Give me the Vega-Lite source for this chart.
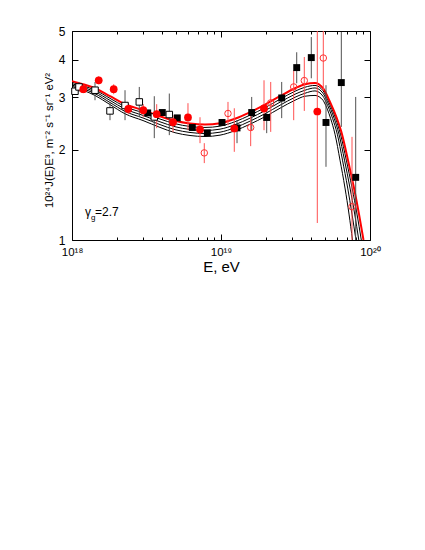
{
  "$schema": "https://vega.github.io/schema/vega-lite/v6.json",
  "width": 298,
  "height": 209,
  "padding": {"left": 43, "top": 25, "right": 10, "bottom": 5},
  "config": {
    "view": {"stroke": "black", "strokeWidth": 1},
    "font": "Liberation Sans",
    "axis": {"grid": false, "domain": false, "labelFont": "Liberation Sans", "titleFont": "Liberation Sans", "labelFontSize": 12, "titleFontWeight": "normal", "tickColor": "black", "labelColor": "black", "titleColor": "black", "labelFlush": false}
  },
  "datasets": {
    "curves": [
      {"c": "red", "E": 1.000e18, "J": 3.400}, {"c": "red", "E": 1.185e18, "J": 3.318}, {"c": "red", "E": 1.427e18, "J": 3.218}, {"c": "red", "E": 1.799e18, "J": 3.026}, {"c": "red", "E": 2.269e18, "J": 2.846}, {"c": "red", "E": 2.996e18, "J": 2.717}, {"c": "red", "E": 3.895e18, "J": 2.594}, {"c": "red", "E": 4.913e18, "J": 2.506}, {"c": "red", "E": 6.194e18, "J": 2.453}, {"c": "red", "E": 7.808e18, "J": 2.434}, {"c": "red", "E": 9.847e18, "J": 2.459}, {"c": "red", "E": 1.242e19, "J": 2.545}, {"c": "red", "E": 1.565e19, "J": 2.676}, {"c": "red", "E": 1.974e19, "J": 2.835}, {"c": "red", "E": 2.489e19, "J": 3.026}, {"c": "red", "E": 3.138e19, "J": 3.218}, {"c": "red", "E": 3.662e19, "J": 3.318}, {"c": "red", "E": 4.275e19, "J": 3.351}, {"c": "red", "E": 4.836e19, "J": 3.218}, {"c": "red", "E": 5.389e19, "J": 2.896}, {"c": "red", "E": 6.003e19, "J": 2.545}, {"c": "red", "E": 6.488e19, "J": 2.259}, {"c": "red", "E": 7.116e19, "J": 1.850}, {"c": "red", "E": 7.809e19, "J": 1.492}, {"c": "red", "E": 8.437e19, "J": 1.221}, {"c": "red", "E": 9.045e19, "J": 1.000},

      {"c": "b1", "E": 1.000e18, "J": 3.370}, {"c": "b1", "E": 1.185e18, "J": 3.280}, {"c": "b1", "E": 1.427e18, "J": 3.173}, {"c": "b1", "E": 1.799e18, "J": 2.977}, {"c": "b1", "E": 2.269e18, "J": 2.793}, {"c": "b1", "E": 2.996e18, "J": 2.664}, {"c": "b1", "E": 3.895e18, "J": 2.539}, {"c": "b1", "E": 4.913e18, "J": 2.449}, {"c": "b1", "E": 6.194e18, "J": 2.397}, {"c": "b1", "E": 7.808e18, "J": 2.379}, {"c": "b1", "E": 9.847e18, "J": 2.403}, {"c": "b1", "E": 1.242e19, "J": 2.487}, {"c": "b1", "E": 1.565e19, "J": 2.615}, {"c": "b1", "E": 1.974e19, "J": 2.770}, {"c": "b1", "E": 2.489e19, "J": 2.957}, {"c": "b1", "E": 3.138e19, "J": 3.144}, {"c": "b1", "E": 3.662e19, "J": 3.243}, {"c": "b1", "E": 4.275e19, "J": 3.288}, {"c": "b1", "E": 4.836e19, "J": 3.157}, {"c": "b1", "E": 5.291e19, "J": 2.896}, {"c": "b1", "E": 5.885e19, "J": 2.545}, {"c": "b1", "E": 6.339e19, "J": 2.259}, {"c": "b1", "E": 6.933e19, "J": 1.850}, {"c": "b1", "E": 7.584e19, "J": 1.492}, {"c": "b1", "E": 8.181e19, "J": 1.221}, {"c": "b1", "E": 8.742e19, "J": 1.000},

      {"c": "b2", "E": 1.000e18, "J": 3.333}, {"c": "b2", "E": 1.185e18, "J": 3.243}, {"c": "b2", "E": 1.427e18, "J": 3.130}, {"c": "b2", "E": 1.799e18, "J": 2.930}, {"c": "b2", "E": 2.269e18, "J": 2.742}, {"c": "b2", "E": 2.996e18, "J": 2.610}, {"c": "b2", "E": 3.895e18, "J": 2.485}, {"c": "b2", "E": 4.913e18, "J": 2.393}, {"c": "b2", "E": 6.194e18, "J": 2.342}, {"c": "b2", "E": 7.808e18, "J": 2.325}, {"c": "b2", "E": 9.847e18, "J": 2.348}, {"c": "b2", "E": 1.242e19, "J": 2.431}, {"c": "b2", "E": 1.565e19, "J": 2.555}, {"c": "b2", "E": 1.974e19, "J": 2.707}, {"c": "b2", "E": 2.489e19, "J": 2.890}, {"c": "b2", "E": 3.138e19, "J": 3.073}, {"c": "b2", "E": 3.662e19, "J": 3.169}, {"c": "b2", "E": 4.275e19, "J": 3.225}, {"c": "b2", "E": 4.836e19, "J": 3.096}, {"c": "b2", "E": 5.186e19, "J": 2.896}, {"c": "b2", "E": 5.760e19, "J": 2.545}, {"c": "b2", "E": 6.193e19, "J": 2.259}, {"c": "b2", "E": 6.744e19, "J": 1.850}, {"c": "b2", "E": 7.342e19, "J": 1.492}, {"c": "b2", "E": 7.894e19, "J": 1.221}, {"c": "b2", "E": 8.410e19, "J": 1.000},

      {"c": "b3", "E": 1.000e18, "J": 3.300}, {"c": "b3", "E": 1.185e18, "J": 3.206}, {"c": "b3", "E": 1.427e18, "J": 3.087}, {"c": "b3", "E": 1.799e18, "J": 2.883}, {"c": "b3", "E": 2.269e18, "J": 2.692}, {"c": "b3", "E": 2.996e18, "J": 2.559}, {"c": "b3", "E": 3.895e18, "J": 2.432}, {"c": "b3", "E": 4.913e18, "J": 2.339}, {"c": "b3", "E": 6.194e18, "J": 2.289}, {"c": "b3", "E": 7.808e18, "J": 2.271}, {"c": "b3", "E": 9.847e18, "J": 2.294}, {"c": "b3", "E": 1.242e19, "J": 2.375}, {"c": "b3", "E": 1.565e19, "J": 2.497}, {"c": "b3", "E": 1.974e19, "J": 2.645}, {"c": "b3", "E": 2.489e19, "J": 2.823}, {"c": "b3", "E": 3.138e19, "J": 3.002}, {"c": "b3", "E": 3.662e19, "J": 3.096}, {"c": "b3", "E": 4.275e19, "J": 3.152}, {"c": "b3", "E": 4.836e19, "J": 3.026}, {"c": "b3", "E": 5.066e19, "J": 2.896}, {"c": "b3", "E": 5.619e19, "J": 2.545}, {"c": "b3", "E": 6.033e19, "J": 2.259}, {"c": "b3", "E": 6.537e19, "J": 1.850}, {"c": "b3", "E": 7.084e19, "J": 1.492}, {"c": "b3", "E": 7.572e19, "J": 1.221}, {"c": "b3", "E": 8.054e19, "J": 1.000},

      {"c": "b4", "E": 1.000e18, "J": 3.267}, {"c": "b4", "E": 1.185e18, "J": 3.169}, {"c": "b4", "E": 1.427e18, "J": 3.044}, {"c": "b4", "E": 1.799e18, "J": 2.837}, {"c": "b4", "E": 2.269e18, "J": 2.643}, {"c": "b4", "E": 2.996e18, "J": 2.509}, {"c": "b4", "E": 3.895e18, "J": 2.380}, {"c": "b4", "E": 4.913e18, "J": 2.285}, {"c": "b4", "E": 6.194e18, "J": 2.236}, {"c": "b4", "E": 7.808e18, "J": 2.219}, {"c": "b4", "E": 9.847e18, "J": 2.242}, {"c": "b4", "E": 1.242e19, "J": 2.321}, {"c": "b4", "E": 1.565e19, "J": 2.440}, {"c": "b4", "E": 1.974e19, "J": 2.584}, {"c": "b4", "E": 2.489e19, "J": 2.759}, {"c": "b4", "E": 3.138e19, "J": 2.934}, {"c": "b4", "E": 3.662e19, "J": 3.026}, {"c": "b4", "E": 4.275e19, "J": 3.044}, {"c": "b4", "E": 4.836e19, "J": 2.934}, {"c": "b4", "E": 4.913e19, "J": 2.896}, {"c": "b4", "E": 5.447e19, "J": 2.545}, {"c": "b4", "E": 5.823e19, "J": 2.259}, {"c": "b4", "E": 6.291e19, "J": 1.850}, {"c": "b4", "E": 6.796e19, "J": 1.492}, {"c": "b4", "E": 7.230e19, "J": 1.221}, {"c": "b4", "E": 7.631e19, "J": 1.000}
    ],
    "pts": [
      {"s": "osq", "E": 1.047e18, "J": 3.144},
      {"s": "osq", "E": 1.114e18, "J": 3.250, "lo": 3.127, "hi": 3.377},
      {"s": "osq", "E": 1.427e18, "J": 3.169, "lo": 2.934, "hi": 3.377},
      {"s": "osq", "E": 1.799e18, "J": 2.702, "lo": 2.516, "hi": 2.868},
      {"s": "osq", "E": 2.269e18, "J": 2.817, "lo": 2.516, "hi": 3.169},
      {"s": "osq", "E": 2.829e18, "J": 2.896, "lo": 2.580, "hi": 3.250},
      {"s": "osq", "E": 3.567e18, "J": 2.580, "lo": 2.191, "hi": 3.026},
      {"s": "osq", "E": 4.498e18, "J": 2.628, "lo": 2.242, "hi": 3.089},
      {"s": "fsq", "E": 3.222e18, "J": 2.661},
      {"s": "fsq", "E": 4.036e18, "J": 2.669},
      {"s": "fsq", "E": 5.089e18, "J": 2.561},
      {"s": "fsq", "E": 6.419e18, "J": 2.378},
      {"s": "fsq", "E": 8.092e18, "J": 2.282},
      {"s": "fsq", "E": 1.016e19, "J": 2.472},
      {"s": "fsq", "E": 1.281e19, "J": 2.371, "lo": 2.108, "hi": 2.516},
      {"s": "fsq", "E": 1.607e19, "J": 2.669, "lo": 2.329, "hi": 3.009},
      {"s": "fsq", "E": 2.026e19, "J": 2.569, "lo": 2.277, "hi": 2.824},
      {"s": "fsq", "E": 2.555e19, "J": 2.986, "lo": 2.556, "hi": 3.377},
      {"s": "fsq", "E": 3.222e19, "J": 3.772, "lo": 3.343, "hi": 4.245},
      {"s": "fsq", "E": 4.036e19, "J": 4.074, "lo": 3.474, "hi": 4.773},
      {"s": "fsq", "E": 5.066e19, "J": 2.472, "lo": 1.757, "hi": 3.293},
      {"s": "fsq", "E": 6.419e19, "J": 3.361, "lo": 2.389, "hi": 4.961},
      {"s": "fsq", "E": 8.017e19, "J": 1.620, "lo": 1.0, "hi": 3.009},
      {"s": "fci", "E": 1.191e18, "J": 3.193, "lo": 3.096, "hi": 3.293},
      {"s": "fci", "E": 1.511e18, "J": 3.421, "lo": 3.318, "hi": 3.528},
      {"s": "fci", "E": 1.905e18, "J": 3.193, "lo": 3.073, "hi": 3.318},
      {"s": "fci", "E": 2.387e18, "J": 2.744, "lo": 2.634, "hi": 2.868},
      {"s": "fci", "E": 3.009e18, "J": 2.717, "lo": 2.574, "hi": 2.846},
      {"s": "fci", "E": 3.702e18, "J": 2.634, "lo": 2.366, "hi": 2.846},
      {"s": "fci", "E": 4.763e18, "J": 2.477, "lo": 2.294, "hi": 2.615},
      {"s": "fci", "E": 6.003e18, "J": 2.569, "lo": 2.329, "hi": 2.868},
      {"s": "fci", "E": 7.230e18, "J": 2.342, "lo": 2.108, "hi": 2.574},
      {"s": "fci", "E": 1.228e19, "J": 2.360, "lo": 1.972, "hi": 2.758},
      {"s": "fci", "E": 1.944e19, "J": 2.753, "lo": 2.329, "hi": 3.421},
      {"s": "fci", "E": 4.429e19, "J": 2.690, "lo": 1.140, "hi": 5.0},
      {"s": "oci", "E": 7.724e18, "J": 1.956, "lo": 1.808, "hi": 2.108},
      {"s": "oci", "E": 1.114e19, "J": 2.649, "lo": 2.421, "hi": 2.896},
      {"s": "oci", "E": 1.582e19, "J": 2.378, "lo": 2.060, "hi": 2.717},
      {"s": "oci", "E": 2.156e19, "J": 2.874, "lo": 2.299, "hi": 3.377},
      {"s": "oci", "E": 3.075e19, "J": 3.250, "lo": 2.516, "hi": 3.695},
      {"s": "oci", "E": 3.623e19, "J": 3.413, "lo": 2.702, "hi": 4.093},
      {"s": "oci", "E": 4.860e19, "J": 4.061, "lo": 3.169, "hi": 5.0},
      {"s": "oci", "E": 7.572e19, "J": 1.292, "lo": 1.0, "hi": 2.213}
    ],
    "ann": [
      {"t": "γ", "E": 1.222e18, "J": 1.203, "k": "main"},
      {"t": "g", "E": 1.341e18, "J": 1.166, "k": "sub"},
      {"t": "=2.7", "E": 1.427e18, "J": 1.203, "k": "main"}
    ]
  },
  "layer": [
    {
      "data": {"name": "curves"},
      "transform": [{"filter": "datum.c != 'red'"}],
      "mark": {"type": "line", "color": "black", "strokeWidth": 1, "interpolate": "monotone", "clip": true},
      "encoding": {
        "x": {"field": "E", "type": "quantitative", "scale": {"type": "log", "domain": [1e18, 1e20], "nice": false},
          "axis": {"orient": "top", "title": null, "labels": false, "values": [1e18, 2e18, 3e18, 4e18, 5e18, 6e18, 7e18, 8e18, 9e18, 1e19, 2e19, 3e19, 4e19, 5e19, 6e19, 7e19, 8e19, 9e19, 1e20],
            "tickSize": {"condition": {"test": "datum.value == 1e18 || datum.value == 1e19 || datum.value == 1e20", "value": -6}, "value": -3}}},
        "y": {"field": "J", "type": "quantitative", "scale": {"type": "log", "domain": [1, 5], "nice": false},
          "axis": {"orient": "right", "title": null, "labels": false, "values": [1, 2, 3, 4, 5], "tickSize": -6}},
        "detail": {"field": "c"}
      }
    },
    {
      "data": {"name": "curves"},
      "transform": [{"filter": "datum.c == 'red'"}],
      "mark": {"type": "line", "color": "#ff0000", "strokeWidth": 2, "interpolate": "monotone", "clip": true},
      "encoding": {
        "x": {"field": "E", "type": "quantitative", "scale": {"type": "log", "domain": [1e18, 1e20], "nice": false},
          "axis": {"orient": "bottom", "title": "E, eV", "titleFontSize": 15, "titlePadding": 2, "labelPadding": 12, "labelFontSize": 11.5, "values": [1e18, 2e18, 3e18, 4e18, 5e18, 6e18, 7e18, 8e18, 9e18, 1e19, 2e19, 3e19, 4e19, 5e19, 6e19, 7e19, 8e19, 9e19, 1e20],
            "labelExpr": "datum.value == 1e18 ? '10¹⁸' : datum.value == 1e19 ? '10¹⁹' : datum.value == 1e20 ? '10²⁰' : ''",
            "tickSize": {"condition": {"test": "datum.value == 1e18 || datum.value == 1e19 || datum.value == 1e20", "value": -6}, "value": -3}}},
        "y": {"field": "J", "type": "quantitative", "scale": {"type": "log", "domain": [1, 5], "nice": false},
          "axis": {"orient": "left", "title": "10²⁴J(E)E³, m⁻² s⁻¹ sr⁻¹ eV²", "titleFontSize": 11.4, "titlePadding": 4, "titleY": 109, "labelPadding": 13, "values": [1, 2, 3, 4, 5], "tickSize": -6}}
      }
    },
    {
      "data": {"name": "pts"},
      "transform": [{"filter": "datum.s == 'osq' || datum.s == 'fsq'"}],
      "mark": {"type": "rule", "color": "#505050", "strokeWidth": 1, "clip": true},
      "encoding": {
        "x": {"field": "E", "type": "quantitative", "axis": null},
        "y": {"field": "lo", "type": "quantitative", "axis": null},
        "y2": {"field": "hi"}
      }
    },
    {
      "data": {"name": "pts"},
      "transform": [{"filter": "datum.s == 'fci' || datum.s == 'oci'"}],
      "mark": {"type": "rule", "color": "#ff5050", "strokeWidth": 1, "clip": true},
      "encoding": {
        "x": {"field": "E", "type": "quantitative", "axis": null},
        "y": {"field": "lo", "type": "quantitative", "axis": null},
        "y2": {"field": "hi"}
      }
    },
    {
      "data": {"name": "pts"},
      "transform": [{"filter": "datum.s == 'osq'"}],
      "mark": {"type": "point", "shape": "square", "filled": true, "fill": "white", "stroke": "black", "strokeWidth": 1, "size": 42, "opacity": 1},
      "encoding": {
        "x": {"field": "E", "type": "quantitative", "axis": null},
        "y": {"field": "J", "type": "quantitative", "axis": null}
      }
    },
    {
      "data": {"name": "pts"},
      "transform": [{"filter": "datum.s == 'fsq'"}],
      "mark": {"type": "point", "shape": "square", "filled": true, "color": "black", "size": 48, "opacity": 1},
      "encoding": {
        "x": {"field": "E", "type": "quantitative", "axis": null},
        "y": {"field": "J", "type": "quantitative", "axis": null}
      }
    },
    {
      "data": {"name": "pts"},
      "transform": [{"filter": "datum.s == 'fci'"}],
      "mark": {"type": "point", "shape": "circle", "filled": true, "color": "#ff0000", "size": 60, "opacity": 1},
      "encoding": {
        "x": {"field": "E", "type": "quantitative", "axis": null},
        "y": {"field": "J", "type": "quantitative", "axis": null}
      }
    },
    {
      "data": {"name": "pts"},
      "transform": [{"filter": "datum.s == 'oci'"}],
      "mark": {"type": "point", "shape": "circle", "filled": false, "color": "#ff3030", "strokeWidth": 1, "size": 42, "opacity": 1},
      "encoding": {
        "x": {"field": "E", "type": "quantitative", "axis": null},
        "y": {"field": "J", "type": "quantitative", "axis": null}
      }
    },
    {
      "data": {"name": "ann"},
      "transform": [{"filter": "datum.k == 'main'"}],
      "mark": {"type": "text", "align": "left", "baseline": "alphabetic", "fontSize": 12, "font": "Liberation Sans", "color": "black"},
      "encoding": {
        "x": {"field": "E", "type": "quantitative", "axis": null},
        "y": {"field": "J", "type": "quantitative", "axis": null},
        "text": {"field": "t"}
      }
    },
    {
      "data": {"name": "ann"},
      "transform": [{"filter": "datum.k == 'sub'"}],
      "mark": {"type": "text", "align": "left", "baseline": "alphabetic", "fontSize": 8, "font": "Liberation Sans", "color": "black"},
      "encoding": {
        "x": {"field": "E", "type": "quantitative", "axis": null},
        "y": {"field": "J", "type": "quantitative", "axis": null},
        "text": {"field": "t"}
      }
    }
  ],
  "resolve": {"axis": {"x": "independent", "y": "independent"}}
}
